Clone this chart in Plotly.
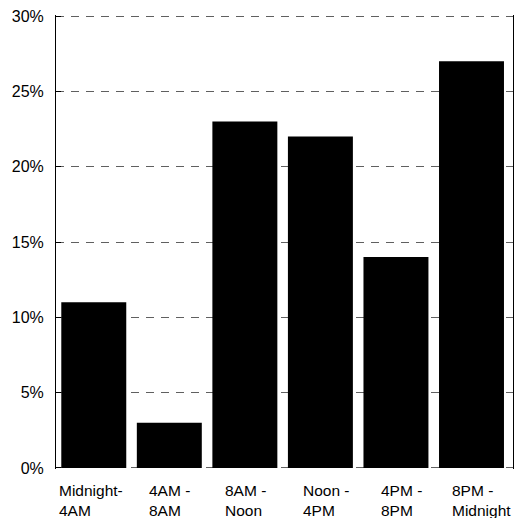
import plotly.graph_objects as go

categories = ["Midnight-<br>4AM", "4AM -<br>8AM", "8AM -<br>Noon",
              "Noon -<br>4PM", "4PM -<br>8PM", "8PM -<br>Midnight"]
shares = [0.11, 0.03, 0.23, 0.22, 0.14, 0.27]
y_ticks = [0, 0.05, 0.10, 0.15, 0.20, 0.25, 0.30]
y_tick_labels = ["0%", "5%", "10%", "15%", "20%", "25%", "30%"]

FONT = "Liberation Sans, Arial"

fig = go.Figure()
fig.add_trace(go.Bar(x=categories, y=shares, marker=dict(color="black", line=dict(width=0))))

# x labels: block under each bar, lines left aligned (Excel style); small nudges to match
label_nudge = [-3, 0, 1, 6, 6, 10]
for c, dx in zip(categories, label_nudge):
    fig.add_annotation(x=c, xref="x", y=0, yref="paper", yanchor="top", yshift=-11,
                       xshift=dx, text=c, showarrow=False, align="left", xanchor="center",
                       font=dict(family=FONT, size=15.5, color="black"))

fig.update_xaxes(showticklabels=False, showgrid=False, showline=False, zeroline=False)
fig.update_yaxes(range=[-0.0007, 0.3007], tickvals=y_ticks, ticktext=y_tick_labels,
                 showgrid=True, gridcolor="#606060", griddash="8px,7px", gridwidth=1,
                 showline=True, linecolor="black", linewidth=1, mirror=True,
                 zeroline=False, ticks="inside", ticklen=5, tickcolor="black",
                 ticklabelstandoff=8,
                 tickfont=dict(family=FONT, size=16, color="black"))

fig.update_layout(
    width=518, height=518,
    margin=dict(l=56, r=5, t=15, b=49),
    bargap=0.14,
    showlegend=False,
    paper_bgcolor="white",
    plot_bgcolor="white",
)

fig.write_html("out.html", config={"displayModeBar": False},
               post_script="document.body.style.margin='0';")
